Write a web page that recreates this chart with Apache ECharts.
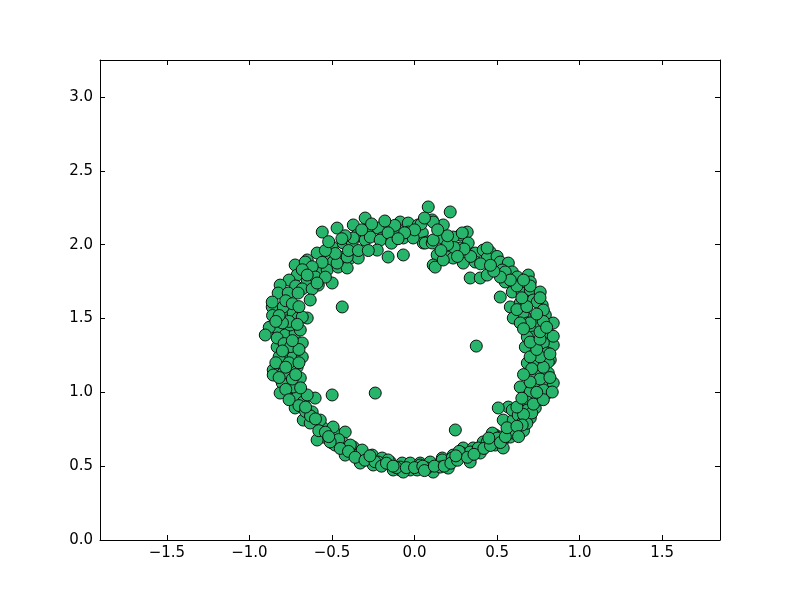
<!DOCTYPE html>
<html>
<head>
<meta charset="utf-8">
<script src="https://cdn.jsdelivr.net/npm/echarts@6/dist/echarts.min.js"></script>
<style>
  html, body { margin: 0; background: #fff; }
  #main { width: 800px; height: 600px; }
</style>
</head>
<body>
<div id="main"></div>
<script>
// tick labels
const xTicks = [-1.5, -1.0, -0.5, 0.0, 0.5, 1.0, 1.5];
const yTicks = [0.0, 0.5, 1.0, 1.5, 2.0, 2.5, 3.0];

// points, by part of the ring
const topArc = [
  [0.083,2.255],[0.216,2.221],[-0.559,2.085],[-0.469,2.112],[-0.299,2.180],[-0.371,2.133],[-0.287,2.099],
  [-0.220,2.112],[-0.087,2.153],[-0.038,2.146],[0.022,2.133],[0.107,2.167],[0.174,2.133],[-0.099,2.099],
  [-0.038,2.085],[0.047,2.079],[0.077,2.018],[0.319,2.085],[0.277,2.065],[0.234,2.051],[0.289,2.079],
  [0.325,2.011],[-0.347,2.065],[-0.299,2.031],[-0.196,2.045],[0.053,2.011],[-0.499,1.984],[-0.432,2.011],
  [-0.377,2.018],[-0.371,2.045],[-0.268,2.051],[-0.208,2.031],[-0.226,1.963],[-0.160,1.916],[-0.068,2.045],
  [-0.008,2.045],[0.065,2.011],[0.107,2.011],[0.137,1.930],[0.113,1.862],[0.125,1.848],[0.198,1.916],
  [0.234,1.909],[0.277,1.977],[0.368,1.943],[0.416,1.963],[0.458,1.950],[0.295,1.875],[0.368,1.882],
  [0.440,1.909],[0.168,2.045],[0.174,1.896],[0.113,2.031],[0.113,2.153],[-0.590,1.943],[-0.511,1.916],
  [-0.450,1.896],[-0.389,1.909],[-0.341,1.909],[-0.650,1.896],[-0.493,1.882],[-0.432,1.916],[-0.723,1.862],
  [-0.662,1.882],[-0.590,1.815],[-0.529,1.828],[-0.463,1.848],[-0.408,1.842],[-0.711,1.794],[-0.650,1.760],
  [-0.583,1.726],[-0.499,1.740],[-0.469,1.875],[-0.408,1.916],[0.440,1.977],
  [0.50,1.92],[0.40,1.87],[0.34,1.92],[0.30,1.97],[0.24,1.98],[0.20,2.00],[0.26,1.92],[0.16,1.96],
  [0.20,2.06],[0.14,2.10],[0.04,2.14],[0.00,2.10],[-0.06,2.08],[-0.12,2.13],[-0.16,2.08],[-0.14,2.01],
  [-0.10,2.04],[-0.26,2.14],[-0.32,2.10],[-0.42,2.06],[-0.40,1.96],[-0.34,1.96],[-0.28,1.96],[-0.48,1.94],
  [-0.54,1.96],[-0.56,1.88],[-0.62,1.85],[-0.68,1.83],[-0.60,1.78],[-0.54,1.78],[-0.76,1.76],[-0.72,1.72],
  [-0.68,1.70],[-0.62,1.70],[-0.18,2.16],[0.06,2.18],[-0.44,2.04],[-0.52,2.02]
];
const rightArc = [
  [0.519,1.882],[0.568,1.875],[0.531,1.828],[0.592,1.815],[0.337,1.774],[0.398,1.774],[0.440,1.794],
  [0.549,1.747],[0.622,1.781],[0.689,1.794],[0.701,1.747],[0.519,1.645],[0.592,1.679],[0.652,1.672],
  [0.701,1.693],[0.761,1.679],[0.580,1.578],[0.640,1.605],[0.719,1.625],[0.773,1.591],[0.598,1.503],
  [0.671,1.510],[0.743,1.456],[0.792,1.523],[0.840,1.469],[0.701,1.422],[0.810,1.401],[0.549,1.815],
  [0.743,1.611],[0.780,1.557],[0.658,1.537],[0.683,1.469],[0.671,1.307],[0.719,1.374],[0.780,1.286],
  [0.840,1.320],[0.683,1.198],[0.743,1.185],[0.822,1.219],[0.743,1.131],[0.810,1.131],[0.640,1.036],
  [0.719,1.036],[0.792,1.070],[0.840,1.063],[0.701,0.968],[0.749,0.968],[0.804,0.995],[0.568,0.900],
  [0.640,0.860],[0.683,0.900],[0.731,0.894],[0.537,0.812],[0.598,0.812],[0.658,0.826],[0.489,0.711],
  [0.537,0.677],[0.610,0.731],[0.683,1.374],[0.780,1.334],[0.804,1.266],[0.810,1.205],[0.701,1.104],
  [0.701,1.002],[0.743,1.049],[0.780,1.016],[0.834,1.002],[0.743,0.948],[0.683,0.934],[0.592,0.880],
  [0.628,0.846],[0.683,0.880],[0.701,0.826],[0.598,0.745],[0.652,0.792],[0.471,0.724],[0.519,0.697],
  [0.580,0.697],
  [0.66,0.74],[0.68,0.79],[0.71,0.86],[0.66,0.85],[0.62,0.90],[0.72,0.92],[0.65,0.96],[0.78,0.95],
  [0.76,1.09],[0.70,1.07],[0.82,1.10],[0.78,1.17],[0.71,1.16],[0.76,1.24],[0.70,1.24],[0.82,1.26],
  [0.74,1.29],[0.70,1.34],[0.76,1.36],[0.84,1.38],[0.76,1.41],[0.70,1.47],[0.78,1.48],[0.64,1.47],
  [0.74,1.53],[0.62,1.56],[0.68,1.58],[0.76,1.64],[0.65,1.64],[0.70,1.72],[0.62,1.72],[0.66,1.76],
  [0.58,1.76],[0.52,1.78],[0.48,1.82],[0.46,1.86],[0.66,1.43],[0.80,1.44],[0.66,1.12],[0.74,1.00]
];
const bottomArc = [
  [0.416,0.664],[0.489,0.643],[0.537,0.623],[0.295,0.623],[0.355,0.623],[0.398,0.589],[0.168,0.555],
  [0.234,0.575],[0.295,0.575],[0.337,0.528],[0.095,0.521],[0.137,0.508],[0.198,0.521],[0.113,0.460],
  [-0.481,0.724],[-0.420,0.731],[-0.432,0.657],[-0.371,0.630],[-0.317,0.589],[-0.256,0.575],[-0.196,0.555],
  [-0.147,0.528],[-0.075,0.521],[-0.026,0.521],[0.034,0.521],[0.095,0.528],[0.168,0.542],[0.228,0.555],
  [0.289,0.589],[0.337,0.596],[0.386,0.623],[0.440,0.664],[0.501,0.690],[0.598,0.724],[0.652,0.779],
  [-0.329,0.521],[-0.250,0.508],[-0.160,0.542],[-0.087,0.474],[-0.026,0.474],[0.077,0.487],[0.156,0.494],
  [0.204,0.487],[-0.499,0.657],[-0.377,0.596],[-0.481,0.643],[-0.420,0.575],[-0.347,0.575],[-0.287,0.555],
  [-0.220,0.528],[-0.389,0.643],[-0.317,0.609],[-0.087,0.494],[0.034,0.508],[-0.129,0.474],[-0.068,0.460],
  [0.016,0.474],
  [-0.46,0.68],[-0.45,0.62],[-0.40,0.60],[-0.36,0.56],[-0.30,0.54],[-0.24,0.53],[-0.20,0.50],[-0.17,0.52],
  [-0.11,0.49],[-0.05,0.49],[0.00,0.49],[0.05,0.50],[0.06,0.47],[0.12,0.50],[0.18,0.50],[0.22,0.52],
  [0.26,0.54],[0.27,0.60],[0.32,0.56],[0.36,0.58],[0.42,0.62],[0.46,0.64],[0.45,0.69],[0.52,0.66],
  [0.55,0.70],[0.56,0.76],[0.62,0.77],[0.63,0.70],[-0.13,0.50],[0.25,0.57],[-0.27,0.57]
];
const leftArc = [
  [-0.826,1.401],[-0.765,1.374],[-0.680,1.334],[-0.832,1.307],[-0.783,1.253],[-0.723,1.185],[-0.856,1.151],
  [-0.795,1.131],[-0.692,1.097],[-0.801,1.063],[-0.814,0.995],[-0.753,1.029],[-0.711,0.968],[-0.674,0.934],
  [-0.602,0.961],[-0.723,0.894],[-0.674,0.812],[-0.620,0.867],[-0.632,0.792],[-0.559,0.765],[-0.553,0.697],
  [-0.493,0.765],[-0.590,0.677],[-0.511,0.664],[-0.571,0.812],[-0.650,0.982],[-0.735,1.036],[-0.832,1.435],
  [-0.783,1.388],[-0.723,1.401],[-0.832,1.368],[-0.735,1.239],[-0.680,1.239],[-0.856,1.117],[-0.771,1.131],
  [-0.711,1.171],[-0.814,1.726],[-0.826,1.672],[-0.765,1.672],[-0.705,1.672],[-0.632,1.625],[-0.862,1.578],
  [-0.795,1.557],[-0.735,1.537],[-0.705,1.503],[-0.650,1.503],[-0.590,1.740],[-0.650,1.794],[-0.862,1.611],
  [-0.795,1.578],[-0.680,1.510],[-0.753,1.456],[-0.692,1.422],
  [-0.78,1.62],[-0.74,1.60],[-0.70,1.58],[-0.76,1.48],[-0.80,1.47],[-0.71,1.46],[-0.79,1.33],[-0.75,1.31],
  [-0.70,1.29],[-0.82,1.24],[-0.76,1.20],[-0.70,1.20],[-0.84,1.20],[-0.78,1.17],[-0.74,1.09],[-0.82,1.10],
  [-0.78,1.02],[-0.69,1.03],[-0.76,0.95],[-0.70,0.91],[-0.66,0.87],[-0.63,0.84],[-0.60,0.82],[-0.58,0.74],
  [-0.54,0.73],[-0.52,0.70],[-0.86,1.52],[-0.82,1.52],[-0.88,1.44],[-0.84,1.48],[-0.74,1.35],[-0.80,1.28],
  [-0.72,1.12],[-0.66,0.90]
];
const strays = [
  [-0.904,1.388],[-0.438,1.578],[0.374,1.313],[-0.499,0.982],[-0.238,0.995],[0.247,0.745],[-0.068,1.930],
  [0.507,0.894]
];

const points = [].concat(topArc, rightArc, bottomArc, leftArc, strays);

const fmt = v => v.toFixed(1).replace('-', '\u2212');
const font = { fontFamily: 'DejaVu Sans', fontSize: 15, color: '#000' };

function xAxis(position, withLabels) {
  return {
    type: 'value', position: position, min: -1.905, max: 1.85,
    axisLine: { show: true, onZero: false, lineStyle: { color: '#000', width: 1 } },
    axisTick: { show: true, inside: true, length: 5, customValues: xTicks, lineStyle: { color: '#000' } },
    axisLabel: Object.assign({ show: withLabels, margin: 6, customValues: xTicks, formatter: fmt }, font),
    splitLine: { show: false }
  };
}
function yAxis(position, withLabels) {
  return {
    type: 'value', position: position, min: 0, max: 3.25,
    axisLine: { show: true, onZero: false, lineStyle: { color: '#000', width: 1 } },
    axisTick: { show: true, inside: true, length: 5, customValues: yTicks, lineStyle: { color: '#000' } },
    axisLabel: Object.assign({ show: withLabels, margin: 7, customValues: yTicks, formatter: fmt }, font),
    splitLine: { show: false }
  };
}

const chart = echarts.init(document.getElementById('main'));
chart.setOption({
  animation: false,
  backgroundColor: '#fff',
  grid: { left: 100, right: 80, top: 60, bottom: 60 },
  xAxis: [xAxis('bottom', true), xAxis('top', false)],
  yAxis: [yAxis('left', true), yAxis('right', false)],
  series: [{
    type: 'scatter',
    data: points,
    symbol: 'circle',
    symbolSize: 12,
    itemStyle: { color: '#27b56c', borderColor: '#111', borderWidth: 1, opacity: 1 }
  }]
});
</script>
</body>
</html>
